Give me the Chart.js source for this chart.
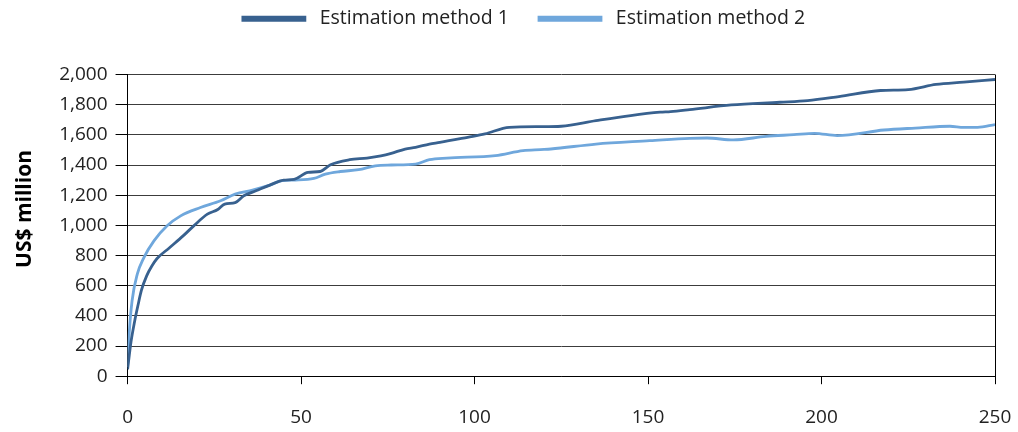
<!DOCTYPE html>
<html lang="en">
<head>
    <meta charset="UTF-8">
    <title>Estimation methods</title>
    <script src="https://cdn.jsdelivr.net/npm/chart.js"></script>
    <style>
        html, body { margin: 0; padding: 0; background: #fff; }
        #box { width: 1018px; height: 432px; }
    </style>
</head>
<body>
    <div id="box"><canvas id="grafico"></canvas></div>
    <script>
        // values
        const method1X = [0, 0.5, 1, 2, 3, 4, 5.5, 7, 8.5, 12, 16, 19, 23, 26, 28, 31, 33.5, 37, 41, 45, 48, 52, 55.5, 58.5, 64, 69, 73, 76, 80, 83, 87, 90, 98, 103, 110, 119, 125, 135, 145, 153.5, 156.5, 162, 174, 188, 196, 205, 217, 225, 233, 241, 250];
        const method1Y = [45, 140, 230, 360, 470, 570, 665, 730, 780, 850, 930, 995, 1074, 1105, 1141, 1151, 1196, 1229, 1267, 1300, 1305, 1351, 1357, 1402, 1435, 1446, 1460, 1477, 1506, 1517, 1539, 1550, 1584, 1606, 1650, 1654, 1657, 1694, 1728, 1750, 1754, 1767, 1798, 1816, 1827, 1854, 1894, 1900, 1934, 1949, 1967];
        const method2X = [0, 0.4, 1.3, 2.8, 4.7, 7.6, 11.4, 15.3, 21, 26.8, 31, 36, 41, 44.6, 48.4, 53.7, 57, 61.3, 66.6, 71.4, 76, 83, 87, 92, 106, 114, 119, 122, 135, 150.5, 162, 167, 174.6, 184, 192, 198, 204.5, 218, 227, 237, 241, 245, 250];
        const method2Y = [60, 260, 500, 676, 786, 897, 997, 1063, 1118, 1163, 1207, 1234, 1267, 1296, 1300, 1311, 1340, 1357, 1369, 1395, 1400, 1406, 1435, 1446, 1462, 1495, 1502, 1506, 1539, 1561, 1577, 1579, 1566, 1590, 1601, 1610, 1595, 1632, 1645, 1657, 1650, 1650, 1668];
        const seriesNames = ['Estimation method 1', 'Estimation method 2'];

        const escuro = '#38618f';
        const claro = '#6fa7dc';
        const fonte = "'Open Sans', 'Noto Sans', sans-serif";

        const pontos = (xs, ys) => xs.map((x, i) => ({ x: x, y: ys[i] }));

        new Chart(document.getElementById('grafico'), {
            type: 'line',
            data: {
                datasets: [{
                    label: seriesNames[0],
                    data: pontos(method1X, method1Y),
                    borderColor: escuro,
                    backgroundColor: escuro,
                    borderWidth: 2.8,
                    pointRadius: 0,
                    cubicInterpolationMode: 'monotone'
                }, {
                    label: seriesNames[1],
                    data: pontos(method2X, method2Y),
                    borderColor: claro,
                    backgroundColor: claro,
                    borderWidth: 2.8,
                    pointRadius: 0,
                    cubicInterpolationMode: 'monotone'
                }]
            },
            options: {
                responsive: true,
                maintainAspectRatio: false,
                animation: false,
                layout: { padding: { left: 12, right: -18, top: -21, bottom: -19 } },
                plugins: {
                    legend: {
                        position: 'top',
                        labels: {
                            boxWidth: 62,
                            boxHeight: 3,
                            padding: 30,
                            color: '#222',
                            font: { family: fonte, size: 19.5 },
                            generateLabels: chart => Chart.defaults.plugins.legend.labels.generateLabels(chart)
                                .map(item => Object.assign(item, { text: ' ' + item.text }))
                        }
                    },
                    // empty title used only as a gap under the legend
                    title: {
                        display: true,
                        text: '',
                        weight: 500,
                        font: { size: 1, lineHeight: 1 },
                        padding: { top: 35, bottom: 0 }
                    },
                    tooltip: { enabled: false }
                },
                scales: {
                    x: {
                        type: 'linear',
                        min: 0,
                        max: 250,
                        // the big tick padding would otherwise push the right edge in
                        afterFit: scale => { scale.paddingRight = 23; },
                        ticks: {
                            stepSize: 50,
                            padding: 22,
                            color: '#222',
                            font: { family: fonte, size: 19 }
                        },
                        grid: {
                            drawOnChartArea: true,
                            color: ctx => ctx.tick && ctx.tick.value === 250 ? '#000' : 'transparent',
                            tickColor: '#000',
                            tickLength: 8
                        },
                        border: { color: '#000', width: 1 }
                    },
                    y: {
                        min: 0,
                        max: 2000,
                        ticks: {
                            stepSize: 200,
                            padding: 8,
                            color: '#222',
                            font: { family: fonte, size: 19 },
                            callback: v => v.toLocaleString('en-US')
                        },
                        grid: {
                            color: '#3c3c3c',
                            tickColor: '#000',
                            tickLength: 12
                        },
                        border: { color: '#000', width: 1 },
                        title: {
                            display: true,
                            // leading spaces lift the text a little, as in the original
                            text: '      US$ million',
                            color: '#000',
                            padding: { top: 0, bottom: 14 },
                            font: { family: fonte, size: 21, weight: 'bold' }
                        }
                    }
                }
            }
        });
    </script>
</body>
</html>
